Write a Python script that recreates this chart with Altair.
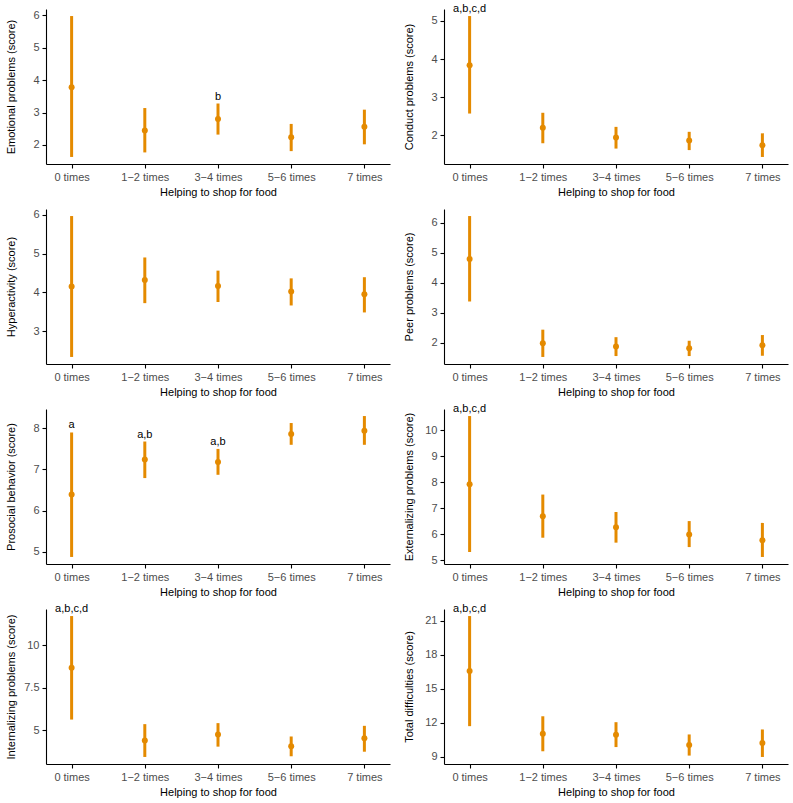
import altair as alt
import pandas as pd

categories = ["0 times", "1−2 times", "3−4 times", "5−6 times", "7 times"]
x_title = "Helping to shop for food"

emotional_mean = [3.78, 2.45, 2.80, 2.24, 2.56]
emotional_lower = [1.63, 1.77, 2.32, 1.81, 2.02]
emotional_upper = [5.98, 3.14, 3.28, 2.65, 3.09]
emotional_labels = ["", "", "b", "", ""]
emotional_ticks = [2, 3, 4, 5, 6]

conduct_mean = [3.84, 2.20, 1.94, 1.86, 1.74]
conduct_lower = [2.57, 1.79, 1.65, 1.61, 1.43]
conduct_upper = [5.13, 2.59, 2.22, 2.09, 2.05]
conduct_labels = ["a,b,c,d", "", "", "", ""]
conduct_ticks = [2, 3, 4, 5]

hyper_mean = [4.15, 4.32, 4.16, 4.02, 3.95]
hyper_lower = [2.33, 3.72, 3.75, 3.66, 3.48]
hyper_upper = [5.97, 4.90, 4.56, 4.36, 4.39]
hyper_labels = ["", "", "", "", ""]
hyper_ticks = [3, 4, 5, 6]

peer_mean = [4.80, 1.99, 1.88, 1.82, 1.92]
peer_lower = [3.38, 1.53, 1.56, 1.56, 1.57]
peer_upper = [6.23, 2.44, 2.19, 2.07, 2.26]
peer_labels = ["", "", "", "", ""]
peer_ticks = [2, 3, 4, 5, 6]

prosocial_mean = [6.39, 7.24, 7.18, 7.86, 7.94]
prosocial_lower = [4.87, 6.79, 6.87, 7.60, 7.60]
prosocial_upper = [7.90, 7.68, 7.50, 8.13, 8.30]
prosocial_labels = ["a", "a,b", "a,b", "", ""]
prosocial_ticks = [5, 6, 7, 8]

ext_mean = [7.93, 6.70, 6.27, 5.99, 5.77]
ext_lower = [5.32, 5.87, 5.68, 5.51, 5.13]
ext_upper = [10.55, 7.53, 6.86, 6.51, 6.44]
ext_labels = ["a,b,c,d", "", "", "", ""]
ext_ticks = [5, 6, 7, 8, 9, 10]

int_mean = [8.68, 4.39, 4.74, 4.04, 4.51]
int_lower = [5.62, 3.41, 4.02, 3.45, 3.72]
int_upper = [11.74, 5.35, 5.41, 4.62, 5.25]
int_labels = ["a,b,c,d", "", "", "", ""]
int_ticks = [5, 7.5, 10]

total_mean = [16.57, 11.04, 10.96, 10.05, 10.22]
total_lower = [11.71, 9.50, 9.87, 9.12, 9.00]
total_upper = [21.40, 12.58, 12.06, 10.98, 11.42]
total_labels = ["a,b,c,d", "", "", "", ""]
total_ticks = [9, 12, 15, 18, 21]

panels = [
    ("Emotional problems (score)", emotional_mean, emotional_lower, emotional_upper, emotional_labels, emotional_ticks),
    ("Conduct problems (score)", conduct_mean, conduct_lower, conduct_upper, conduct_labels, conduct_ticks),
    ("Hyperactivity (score)", hyper_mean, hyper_lower, hyper_upper, hyper_labels, hyper_ticks),
    ("Peer problems (score)", peer_mean, peer_lower, peer_upper, peer_labels, peer_ticks),
    ("Prosocial behavior (score)", prosocial_mean, prosocial_lower, prosocial_upper, prosocial_labels, prosocial_ticks),
    ("Externalizing problems (score)", ext_mean, ext_lower, ext_upper, ext_labels, ext_ticks),
    ("Internalizing problems (score)", int_mean, int_lower, int_upper, int_labels, int_ticks),
    ("Total difficulties (score)", total_mean, total_lower, total_upper, total_labels, total_ticks),
]

ORANGE = "#E48A00"
W, H = 344, 155


def panel(ytitle, mean, lower, upper, labels, ticks):
    df = pd.DataFrame({"cat": categories, "mean": mean, "lower": lower,
                       "upper": upper, "label": labels})
    lo, hi = min(lower), max(upper)
    r = hi - lo
    yscale = alt.Scale(domain=[lo - 0.05 * r, hi + 0.05 * r], nice=False, zero=False)
    x = alt.X("cat:N", sort=categories,
              scale=alt.Scale(type="point", padding=0.35),
              axis=alt.Axis(title=x_title, labelAngle=0))
    yaxis = alt.Axis(title=ytitle, values=ticks, labelExpr="'' + datum.value",
                     minExtent=26, maxExtent=26)
    base = alt.Chart(df)
    rules = base.mark_rule(color=ORANGE, strokeWidth=3).encode(
        x=x, y=alt.Y("lower:Q", scale=yscale, axis=yaxis), y2="upper:Q")
    pts = base.mark_circle(color=ORANGE, size=36, opacity=1).encode(
        x=x, y=alt.Y("mean:Q", scale=yscale, axis=yaxis))
    txt = base.mark_text(baseline="alphabetic", dy=-4, fontSize=11,
                         color="#000000", font="Liberation Sans").encode(
        x=x, y=alt.Y("upper:Q", scale=yscale, axis=yaxis), text="label:N")
    return alt.layer(rules, pts, txt).properties(width=W, height=H)


charts = [panel(*p) for p in panels]

chart = alt.concat(*charts, columns=2, spacing={"row": 45, "column": 54},
                   bounds="flush").properties(
    padding={"left": 5, "top": 3, "right": 5, "bottom": 5}
).configure_view(stroke=None).configure_axis(
    grid=False,
    domainColor="#000000", domainWidth=1.1,
    tickColor="#000000", tickWidth=1.1, tickSize=4,
    labelColor="#4D4D4D", labelFontSize=11, labelFont="Liberation Sans",
    labelPadding=3,
    titleColor="#000000", titleFontSize=11, titleFont="Liberation Sans",
    titleFontWeight="normal", titlePadding=4,
).configure_axisX(labelPadding=3, titlePadding=4)

chart.save("out.html", embed_options={"renderer": "svg", "actions": False})
